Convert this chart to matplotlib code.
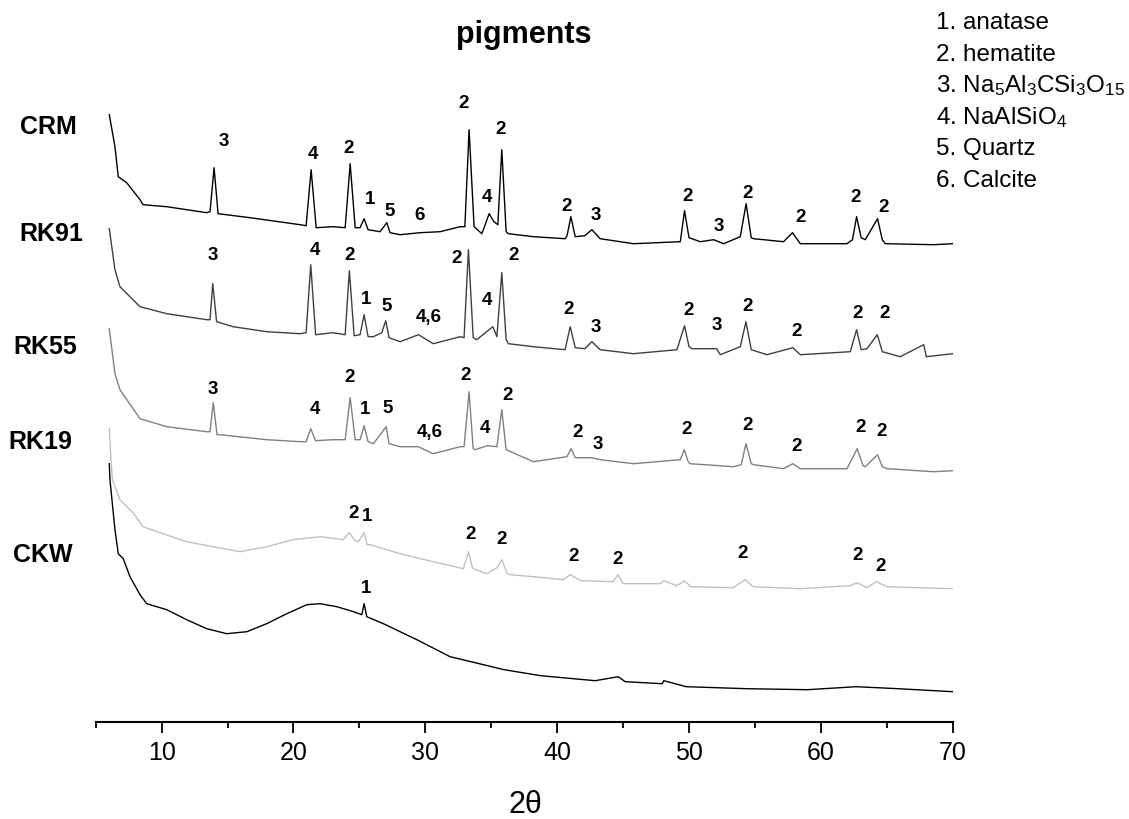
import matplotlib
matplotlib.use("Agg")
import matplotlib.pyplot as plt
from matplotlib.ticker import MultipleLocator

plt.rcParams['font.family'] = ['Liberation Sans', 'DejaVu Sans']
plt.rcParams['mathtext.default'] = 'regular'

# XRD patterns, stacked (2theta in degrees, intensity in a.u. incl. offset)
crm_2t = [6.03, 6.46, 6.71, 7.35, 8.36, 8.59, 10.39, 11.90, 13.42, 13.67, 13.98, 14.28,
          16.71, 20.50, 20.96, 21.34, 21.72, 23.0, 23.92, 24.30, 24.68, 25.05, 25.36, 25.66,
          26.57, 27.08, 27.33, 28.09, 29.6, 31.12, 32.64, 33.0, 33.32, 33.7, 34.29, 34.84,
          35.2, 35.5, 35.80, 36.13, 36.3, 38.2, 40.6, 40.75, 41.04, 41.37, 42.1, 42.63,
          43.26, 45.79, 49.34, 49.66, 50.0, 50.86, 51.87, 52.62, 53.89, 54.33, 54.72, 54.89,
          57.17, 57.85, 58.44, 61.98, 62.4, 62.71, 63.06, 63.37, 64.30, 64.66, 64.89, 68.55, 70.0]
crm_i = [607, 575, 545, 539, 522, 517, 515, 512, 509, 510, 554, 508,
         504, 497, 496, 552, 494, 495, 494, 558, 494, 494, 503, 492,
         490, 499, 489, 487, 489, 490, 495, 495, 592, 495, 488, 508,
         500, 497, 572, 490, 488, 485, 483, 486, 505, 485, 486, 492,
         483, 478, 480, 511, 484, 480, 482, 478, 485, 518, 484, 483,
         480, 489, 478, 478, 482, 505, 484, 482, 503, 482, 478, 477, 478]

rk91_2t = [6.03, 6.46, 6.84, 8.36, 10.39, 13.42, 13.67, 13.88, 14.17, 15.42, 17.97, 20.5,
           20.96, 21.31, 21.68, 23.0, 23.92, 24.24, 24.6, 25.05, 25.36, 25.66, 26.06, 26.7,
           27.0, 27.25, 28.09, 29.48, 30.6, 32.64, 32.94, 33.27, 33.63, 33.9, 35.12, 35.43,
           35.80, 36.13, 36.3, 38.2, 40.6, 40.99, 41.37, 42.1, 42.63, 43.26, 45.79, 49.08,
           49.66, 50.0, 50.22, 52.1, 52.37, 53.89, 54.32, 54.72, 55.91, 57.88, 58.44, 62.23,
           62.71, 63.06, 63.5, 64.28, 64.66, 66.02, 67.8, 68.0, 70.0]
rk91_i = [493, 452, 435, 415, 408, 402, 402, 438, 400, 395, 390, 388,
          389, 457, 387, 389, 387, 451, 386, 387, 407, 385, 385, 389,
          401, 384, 380, 387, 378, 385, 384, 472, 384, 382, 395, 385,
          449, 382, 378, 375, 372, 395, 374, 373, 380, 372, 368, 372,
          396, 375, 373, 373, 367, 375, 400, 372, 367, 374, 367, 370,
          392, 372, 373, 387, 370, 365, 377, 365, 368]

rk55_2t = [6.03, 6.46, 6.84, 8.36, 10.39, 13.42, 13.67, 13.92, 14.2, 14.43, 17.97, 20.5,
           20.96, 21.31, 21.68, 23.0, 23.92, 24.3, 24.68, 25.05, 25.36, 25.66, 26.06, 27.03,
           27.25, 28.09, 29.46, 30.6, 32.64, 32.94, 33.32, 33.63, 33.78, 34.69, 35.43, 35.80,
           36.13, 38.2, 40.74, 41.06, 41.37, 42.63, 43.26, 45.79, 49.34, 49.64, 49.94, 50.08,
           53.38, 53.96, 54.32, 54.72, 54.89, 57.17, 57.88, 58.44, 61.98, 62.75, 63.2, 63.37,
           64.3, 64.66, 65.02, 68.55, 70.0]
rk55_i = [393, 348, 332, 303, 295, 290, 290, 319, 287, 287, 282, 280,
          280, 293, 281, 282, 282, 324, 282, 282, 296, 280, 278, 295,
          278, 275, 275, 268, 275, 275, 330, 273, 272, 276, 275, 312,
          272, 260, 265, 273, 264, 264, 262, 258, 262, 272, 260, 258,
          255, 257, 278, 258, 257, 253, 258, 253, 253, 273, 256, 255,
          267, 255, 253, 250, 251]

rk19_2t = [6.03, 6.16, 6.27, 6.84, 7.83, 8.59, 9.88, 11.90, 13.9, 15.95, 17.97, 19.97,
           22.02, 23.76, 24.24, 24.67, 24.92, 25.36, 25.59, 25.81, 28.09, 30.59, 32.89, 33.27,
           33.55, 33.63, 34.67, 35.45, 35.80, 36.2, 36.43, 38.18, 40.45, 40.99, 41.8, 44.25,
           44.61, 45.01, 47.82, 48.07, 49.08, 49.66, 50.14, 53.35, 54.26, 54.87, 58.44, 62.23,
           62.74, 63.5, 64.2, 65.02, 69.95]
rk19_i = [293, 262, 242, 222, 209, 195, 189, 180, 175, 170, 175, 182,
          185, 182, 189, 181, 180, 189, 177, 177, 168, 160, 153, 170,
          155, 153, 148, 154, 162, 148, 147, 145, 142, 147, 141, 140,
          147, 138, 138, 141, 136, 141, 135, 134, 142, 135, 133, 136,
          139, 134, 140, 135, 133]

ckw_2t = [6.03, 6.08, 6.46, 6.71, 7.09, 7.6, 8.36, 8.87, 10.39, 11.9, 13.42, 14.94,
          16.46, 17.97, 19.49, 21.01, 22.02, 23.29, 24.55, 25.18, 25.36, 25.56, 26.82, 29.36,
          31.88, 34.41, 35.98, 38.76, 42.88, 44.63, 45.16, 47.97, 48.09, 49.79, 54.39, 58.97,
          62.67, 65.87, 70.0]
ckw_i = [258, 242, 192, 168, 163, 145, 127, 118, 112, 102, 93, 88,
         90, 98, 108, 117, 118, 115, 110, 107, 118, 105, 98, 82,
         65, 57, 52, 46, 41, 45, 40, 38, 41, 35, 33, 32,
         35, 33, 30]

# phase labels on the peaks
crm_lab_2t = [14.68, 21.51, 24.17, 25.81, 27.33, 29.53, 32.89, 34.71, 35.73, 40.74, 42.96,
              49.92, 52.25, 54.42, 58.44, 62.66, 64.76]
crm_lab_i = [580, 567, 573, 522, 510, 506, 618, 524, 592, 515, 506, 525, 495, 528, 504, 524, 514]
crm_lab = ['3', '4', '2', '1', '5', '6', '2', '4', '2', '2', '3', '2', '3', '2', '2', '2', '2']

rk91_lab_2t = [13.92, 21.64, 24.29, 25.51, 27.08, 30.24, 32.39, 34.71, 36.73, 40.87, 42.96,
               49.96, 52.12, 54.46, 58.19, 62.79, 64.81]
rk91_lab_i = [466, 471, 466, 422, 415, 404, 463, 421, 466, 412, 394, 411, 396, 415, 390, 408, 408]
rk91_lab = ['3', '4', '2', '1', '5', '4,6', '2', '4', '2', '2', '3', '2', '3', '2', '2', '2', '2']

rk55_lab_2t = [13.92, 21.64, 24.29, 25.43, 27.15, 30.36, 33.02, 34.54, 36.23, 41.57, 43.06,
               49.79, 54.47, 58.13, 62.99, 64.64]
rk55_lab_i = [332, 312, 344, 312, 313, 289, 346, 293, 326, 289, 277, 292, 296, 275, 294, 290]
rk55_lab = ['3', '4', '2', '1', '5', '4,6', '2', '4', '2', '2', '3', '2', '2', '2', '2', '2']

rk19_lab_2t = [24.55, 25.56, 33.40, 35.80, 41.24, 44.58, 54.09, 62.82, 64.51]
rk19_lab_i = [208, 205, 187, 182, 165, 162, 168, 166, 155]
rk19_lab = ['2', '1', '2', '2', '2', '2', '2', '2', '2']

ckw_lab_2t = [25.51]
ckw_lab_i = [133]
ckw_lab = ['1']

samples = ['CRM', 'RK91', 'RK55', 'RK19', 'CKW']
sample_label_y = [127, 234, 347, 442, 555]   # pixel rows of the names
sample_label_x = [20, 19, 13, 8, 13]

legend_lines = ['1. anatase', '2. hematite', '3. Na$_5$Al$_3$CSi$_3$O$_{15}$',
                '4. NaAlSiO$_4$', '5. Quartz', '6. Calcite']

W, H = 1129, 819
fig = plt.figure(figsize=(W / 100, H / 100), dpi=100)
ax = fig.add_axes([95.7 / W, 1 - 721.7 / H, 857 / W, 641.7 / H])

traces = [(crm_2t, crm_i, 'black'), (rk91_2t, rk91_i, '#404040'),
          (rk55_2t, rk55_i, '#808080'), (rk19_2t, rk19_i, '#c0c0c0'),
          (ckw_2t, ckw_i, 'black')]
for x, y, c in traces:
    ax.plot(x, y, color=c, lw=1.0)

for xs, ys, labs in [(crm_lab_2t, crm_lab_i, crm_lab), (rk91_lab_2t, rk91_lab_i, rk91_lab),
                     (rk55_lab_2t, rk55_lab_i, rk55_lab), (rk19_lab_2t, rk19_lab_i, rk19_lab),
                     (ckw_lab_2t, ckw_lab_i, ckw_lab)]:
    for x, y, t in zip(xs, ys, labs):
        ax.text(x, y, t, ha='center', va='center', fontsize=13.5, fontweight='bold')

ax.set_xlim(5, 70)
ax.set_ylim(0, 641.7)
ax.xaxis.set_major_locator(MultipleLocator(10))
ax.xaxis.set_minor_locator(MultipleLocator(10, offset=5))
ax.tick_params(axis='x', which='major', direction='out', length=8, width=1.3,
               labelsize=18, pad=6)
ax.tick_params(axis='x', which='minor', direction='out', length=4, width=1.3)
ax.set_yticks([])
for s in ['left', 'right', 'top']:
    ax.spines[s].set_visible(False)
ax.spines['bottom'].set_linewidth(1.5)

for name, px, py in zip(samples, sample_label_x, sample_label_y):
    fig.text(px / W, 1 - py / H, name, ha='left', va='center', fontsize=18,
             fontweight='bold')

for i, line in enumerate(legend_lines):
    fig.text(936 / W, 1 - (29 + 31.6 * i) / H, line, ha='left', va='baseline',
             fontsize=17.5)

fig.text(524 / W, 1 - 35 / H, 'pigments', ha='center', va='center', fontsize=22,
         fontweight='bold')
fig.text(525 / W, 1 - 805 / H, '2θ', ha='center', va='center', fontsize=22)

fig.savefig('out.png', dpi=100)
